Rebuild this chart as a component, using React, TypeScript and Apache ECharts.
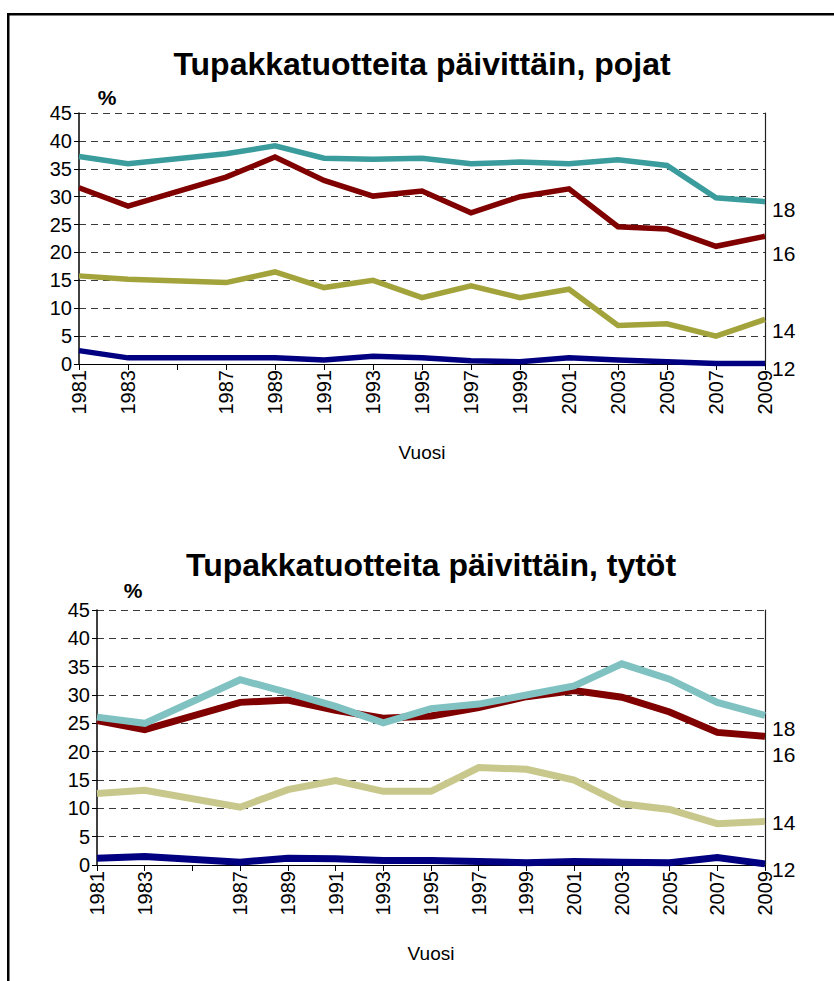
import React, { useEffect, useRef } from "react";
import * as echarts from "echarts";

const years = ["1981", "1983", "1985", "1987", "1989", "1991", "1993", "1995", "1997", "1999", "2001", "2003", "2005", "2007", "2009"];
const yearLabels = ["1981", "1983", "", "1987", "1989", "1991", "1993", "1995", "1997", "1999", "2001", "2003", "2005", "2007", "2009"];
const ageNames = ["18", "16", "14", "12"];

const boys18 = [37.2, 35.9, null, 37.7, 39.1, 36.9, 36.7, 36.9, 35.9, 36.2, 35.9, 36.6, 35.6, 29.8, 29.1];
const boys16 = [31.6, 28.3, null, 33.5, 37.1, 32.9, 30.1, 31.0, 27.1, 30.0, 31.4, 24.6, 24.2, 21.1, 22.9];
const boys14 = [15.8, 15.2, null, 14.6, 16.5, 13.7, 15.0, 11.9, 14.0, 11.9, 13.4, 6.9, 7.2, 5.0, 8.0];
const boys12 = [2.4, 1.1, null, 1.1, 1.1, 0.7, 1.4, 1.1, 0.6, 0.4, 1.1, 0.7, 0.4, 0.1, 0.1];

const girls18 = [26.1, 25.0, null, 32.7, 30.4, 28.0, 25.1, 27.6, 28.4, 30.0, 31.6, 35.5, 32.8, 28.7, 26.4];
const girls16 = [25.5, 23.9, null, 28.7, 29.1, 27.3, 25.9, 26.3, 27.8, 29.7, 30.8, 29.6, 27.0, 23.4, 22.7];
const girls14 = [12.6, 13.2, null, 10.2, 13.3, 14.9, 13.0, 13.0, 17.2, 16.9, 15.0, 10.8, 9.8, 7.3, 7.7];
const girls12 = [1.2, 1.5, null, 0.5, 1.2, 1.1, 0.8, 0.8, 0.6, 0.4, 0.6, 0.5, 0.4, 1.3, 0.2];

const titleBoys = "Tupakkatuotteita päivittäin, pojat";
const titleGirls = "Tupakkatuotteita päivittäin, tytöt";

const FONT = "'Liberation Sans', Arial, sans-serif";

export default function App() {
  const ref = useRef<HTMLDivElement>(null);
  useEffect(() => {
    if (!ref.current) return;
    const chart = echarts.init(ref.current, null, { renderer: "svg" });

    const xAxisFor = (gridIndex: number) => ({
      type: "category",
      gridIndex,
      data: years,
      boundaryGap: false,
      axisLine: { show: true, lineStyle: { color: "#000", width: 1 } },
      axisTick: { show: true, alignWithLabel: true, length: 6, lineStyle: { color: "#000" }, interval: 0 },
      axisLabel: {
        interval: 0,
        rotate: 90,
        fontSize: 20,
        color: "#000",
        fontFamily: FONT,
        margin: 6,
        formatter: (_v: string, i: number) => yearLabels[i],
      },
      splitLine: { show: false },
      name: "Vuosi",
      nameLocation: "middle",
      nameGap: 79,
      nameTextStyle: { fontSize: 19, color: "#000", fontFamily: FONT },
    });

    const yAxisFor = (gridIndex: number) => ({
      type: "value",
      gridIndex,
      min: 0,
      max: 45,
      interval: 5,
      axisLine: { show: true, lineStyle: { color: "#000", width: 1.5 } },
      axisTick: { show: true, length: 5, lineStyle: { color: "#000" } },
      axisLabel: { fontSize: 20, color: "#000", fontFamily: FONT, margin: 7 },
      splitLine: { show: true, lineStyle: { color: "#3a3a3a", type: [7, 5], width: 1.2 } },
    });

    const rightAxisFor = (gridIndex: number) => ({
      type: "value",
      gridIndex,
      position: "right",
      min: 0,
      max: 45,
      interval: 5,
      axisLine: { show: true, lineStyle: { color: "#222", width: 1.2 } },
      axisTick: { show: false },
      axisLabel: { show: false },
      splitLine: { show: false },
    });

    const mkSeries = (
      name: string,
      data: (number | null)[],
      color: string,
      width: number,
      gi: number,
      dy: number
    ) => ({
      type: "line",
      name,
      data,
      xAxisIndex: gi,
      yAxisIndex: gi * 2,
      connectNulls: true,
      showSymbol: false,
      symbol: "none",
      lineStyle: { color, width, join: "miter" },
      itemStyle: { color },
      endLabel: {
        show: true,
        formatter: name,
        fontSize: 21,
        color: "#000",
        fontFamily: FONT,
        distance: 7,
        offset: [0, dy],
      },
      z: 3,
    });

    const option: any = {
      animation: false,
      backgroundColor: "#fff",
      grid: [
        { left: 79, right: 69, top: 113, height: 251, containLabel: false },
        { left: 97, right: 69, top: 610, height: 255, containLabel: false },
      ],
      xAxis: [xAxisFor(0), xAxisFor(1)],
      yAxis: [yAxisFor(0), rightAxisFor(0), yAxisFor(1), rightAxisFor(1)],
      series: [
        mkSeries(ageNames[0], boys18, "#3a9c9c", 5.5, 0, 8),
        mkSeries(ageNames[1], boys16, "#800000", 5.5, 0, 17),
        mkSeries(ageNames[2], boys14, "#a3a33c", 5.5, 0, 11),
        mkSeries(ageNames[3], boys12, "#000080", 5.5, 0, 5),
        mkSeries(ageNames[1], girls16, "#800000", 7, 1, 18),
        mkSeries(ageNames[0], girls18, "#80c2c2", 7, 1, 13),
        mkSeries(ageNames[2], girls14, "#c8c88c", 7, 1, 1),
        mkSeries(ageNames[3], girls12, "#000080", 7, 1, 6),
      ],
      graphic: [
        { type: "rect", shape: { x: 7, y: 13, width: 827, height: 2.5 }, style: { fill: "#000" } },
        { type: "rect", shape: { x: 7, y: 13, width: 2.5, height: 968 }, style: { fill: "#000" } },
        {
          type: "text",
          x: 422,
          y: 64,
          style: { text: titleBoys, fontSize: 32, fontWeight: "bold", fontFamily: FONT, fill: "#000", align: "center", verticalAlign: "middle" },
        },
        {
          type: "text",
          x: 431,
          y: 565,
          style: { text: titleGirls, fontSize: 32, fontWeight: "bold", fontFamily: FONT, fill: "#000", align: "center", verticalAlign: "middle" },
        },
        {
          type: "text",
          x: 107,
          y: 97,
          style: { text: "%", fontSize: 21, fontWeight: "bold", fontFamily: FONT, fill: "#000", align: "center", verticalAlign: "middle" },
        },
        {
          type: "text",
          x: 133,
          y: 590,
          style: { text: "%", fontSize: 21, fontWeight: "bold", fontFamily: FONT, fill: "#000", align: "center", verticalAlign: "middle" },
        },
      ],
    };
    chart.setOption(option);
    return () => chart.dispose();
  }, []);

  return (
    <div
      ref={ref}
      style={{ position: "absolute", left: 0, top: 0, width: 834, height: 981, background: "#fff" }}
    />
  );
}
